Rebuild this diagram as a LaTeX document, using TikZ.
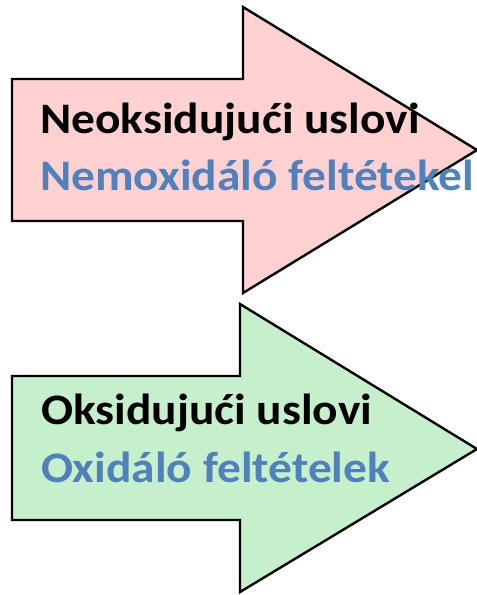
\documentclass[tikz,border=0pt]{standalone}
\usepackage{fontspec}
\setmainfont{Carlito}
\newfontfamily\labelfont{Carlito Bold}[FakeStretch=1.09]
\definecolor{pinkfill}{RGB}{255,209,209}
\definecolor{greenfill}{RGB}{198,239,204}
\definecolor{labelblue}{RGB}{79,129,189}
\begin{document}
\begin{tikzpicture}[x=1pt,y=-1pt,
  arrowshape/.style={draw=black,line width=2.4pt,line join=miter},
  mainlabel/.style={anchor=base west,inner sep=0pt,font=\labelfont\fontsize{43.5}{50}\selectfont,text=black},
  sublabel/.style={mainlabel,text=labelblue}]
  \useasboundingbox (0,0) rectangle (477,595);
  % upper arrow
  \path[arrowshape,fill=pinkfill]
    (12,79) -- (243,79) -- (243,7) -- (477,150) -- (243,293) -- (243,221) -- (12,221) -- cycle;
  % lower arrow
  \path[arrowshape,fill=greenfill]
    (12,376) -- (240,376) -- (240,304) -- (477,449) -- (240,592) -- (240,520) -- (12,520) -- cycle;
  % labels
  \node[mainlabel] (neo) at (40,133) {Neoksidujući uslovi};
  \node[sublabel]  (nemox) at (40,190) {Nemoxidáló feltétekel};
  \node[mainlabel] (oks) at (41,424) {Oksidujući uslovi};
  \node[sublabel]  (oxid) at (41,482) {Oxidáló feltételek};
\end{tikzpicture}
\end{document}
